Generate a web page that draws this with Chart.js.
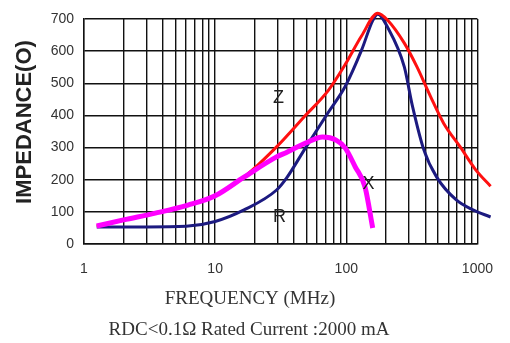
<!DOCTYPE html>
<html>
<head>
<meta charset="utf-8">
<script src="https://cdn.jsdelivr.net/npm/chart.js@4/dist/chart.umd.min.js"></script>
<style>
  html, body { margin: 0; padding: 0; background: #fff; }
  #wrap { width: 510px; height: 343px; }
</style>
</head>
<body>
<div id="wrap"><canvas id="impChart" width="510" height="343"></canvas></div>
<script>
// impedance curves, frequency in MHz, impedance in ohms
const zFreq = [1.25, 2, 3.5, 6.2, 10, 16.6, 29.4, 47.6, 73, 98, 131, 174, 206, 277, 346, 441, 552, 739, 974, 1260];
const zValues = [56, 74, 96, 121, 150, 208, 302, 395, 478, 558, 648, 718, 697, 625, 551, 457, 376, 302, 230, 180];

const rFreq = [1.25, 3, 6, 10, 16.6, 29.4, 35, 49, 73, 98, 131, 159, 174, 206, 277, 318, 391, 489, 690, 925, 1260];
const rValues = [53, 53, 55, 70, 106, 168, 205, 300, 410, 490, 604, 695, 715, 675, 551, 433, 292, 208, 137, 106, 84];

const xFreq = [1.25, 2, 3.5, 6.2, 10, 16.6, 29.4, 35, 49, 66, 83, 98, 117, 139, 159];
const xValues = [56, 75, 96, 121, 150, 208, 271, 285, 314, 333, 324, 299, 240, 177, 50];

// gridlines on every 1..9 step of each decade
const freqGrid = [1, 2, 3, 4, 5, 6, 7, 8, 9, 10, 20, 30, 40, 50, 60, 70, 80, 90,
                  100, 200, 300, 400, 500, 600, 700, 800, 900, 1000];
const freqLabels = [1, 10, 100, 1000];
const impTicks = [0, 100, 200, 300, 400, 500, 600, 700];

// where the curve names sit (frequency, impedance)
const curveNames = [
    { text: 'Z', f: 30.4, v: 454 },
    { text: 'R', f: 31, v: 84 },
    { text: 'X', f: 148, v: 186 }
];

function toPoints(xs, ys) {
    return xs.map((x, i) => ({ x: x, y: ys[i] }));
}

const textPlugin = {
    id: 'textPlugin',
    afterDraw(chart) {
        const ctx = chart.ctx;
        const xs = chart.scales.x, ys = chart.scales.y;
        ctx.save();
        ctx.fillStyle = '#222';
        ctx.textAlign = 'center';
        ctx.textBaseline = 'middle';

        ctx.font = '18px "Liberation Sans", Arial, sans-serif';
        curveNames.forEach(n => {
            ctx.fillText(n.text, xs.getPixelForValue(n.f), ys.getPixelForValue(n.v));
        });

        // axis title on the left
        ctx.save();
        ctx.translate(25, 122);
        ctx.rotate(-Math.PI / 2);
        ctx.font = 'bold 22px "Liberation Sans", Arial, sans-serif';
        ctx.fillText('IMPEDANCE(O)', 0, 0);
        ctx.restore();

        // captions below the plot
        ctx.fillStyle = '#333';
        ctx.font = '19px "Liberation Serif", "Times New Roman", serif';
        ctx.fillText('FREQUENCY (MHz)', 250, 299);
        ctx.fillText('RDC<0.1\u03A9 Rated Current :2000 mA', 249, 330);
        ctx.restore();
    }
};

document.addEventListener('DOMContentLoaded', function () {
    const ctx = document.getElementById('impChart');

    new Chart(ctx, {
        type: 'line',
        data: {
            datasets: [
                {
                    label: 'X',
                    data: toPoints(xFreq, xValues),
                    borderColor: '#ff00ff',
                    borderWidth: 5,
                    pointRadius: 0,
                    cubicInterpolationMode: 'monotone',
                    clip: false
                },
                {
                    label: 'Z',
                    data: toPoints(zFreq, zValues),
                    borderColor: '#ff1010',
                    borderWidth: 3,
                    pointRadius: 0,
                    cubicInterpolationMode: 'monotone',
                    clip: false
                },
                {
                    label: 'R',
                    data: toPoints(rFreq, rValues),
                    borderColor: '#1c1a80',
                    borderWidth: 3,
                    pointRadius: 0,
                    cubicInterpolationMode: 'monotone',
                    clip: false
                }
            ]
        },
        options: {
            responsive: false,
            animation: false,
            layout: { padding: { top: 19, right: 24, left: 0, bottom: 0 } },
            plugins: {
                legend: { display: false },
                tooltip: { enabled: false }
            },
            scales: {
                x: {
                    type: 'logarithmic',
                    min: 1,
                    max: 1000,
                    afterBuildTicks: scale => {
                        scale.ticks = freqGrid.map(v => ({ value: v }));
                    },
                    afterFit: scale => { scale.height = 99; },
                    ticks: {
                        autoSkip: false,
                        maxRotation: 0,
                        padding: 17,
                        color: '#333',
                        font: { family: '"Liberation Sans", Arial, sans-serif', size: 14 },
                        callback: value => freqLabels.includes(value) ? String(value) : ''
                    },
                    grid: { color: '#111', lineWidth: 1.4, drawTicks: false },
                    border: { color: '#111', width: 1.4 }
                },
                y: {
                    min: 0,
                    max: 700,
                    afterBuildTicks: scale => {
                        scale.ticks = impTicks.map(v => ({ value: v }));
                    },
                    afterFit: scale => { scale.width = 84; },
                    ticks: {
                        padding: 10,
                        color: '#333',
                        font: { family: '"Liberation Sans", Arial, sans-serif', size: 14 }
                    },
                    grid: { color: '#111', lineWidth: 1.4, drawTicks: false },
                    border: { color: '#111', width: 1.4 }
                }
            }
        },
        plugins: [textPlugin]
    });
});
</script>
</body>
</html>
